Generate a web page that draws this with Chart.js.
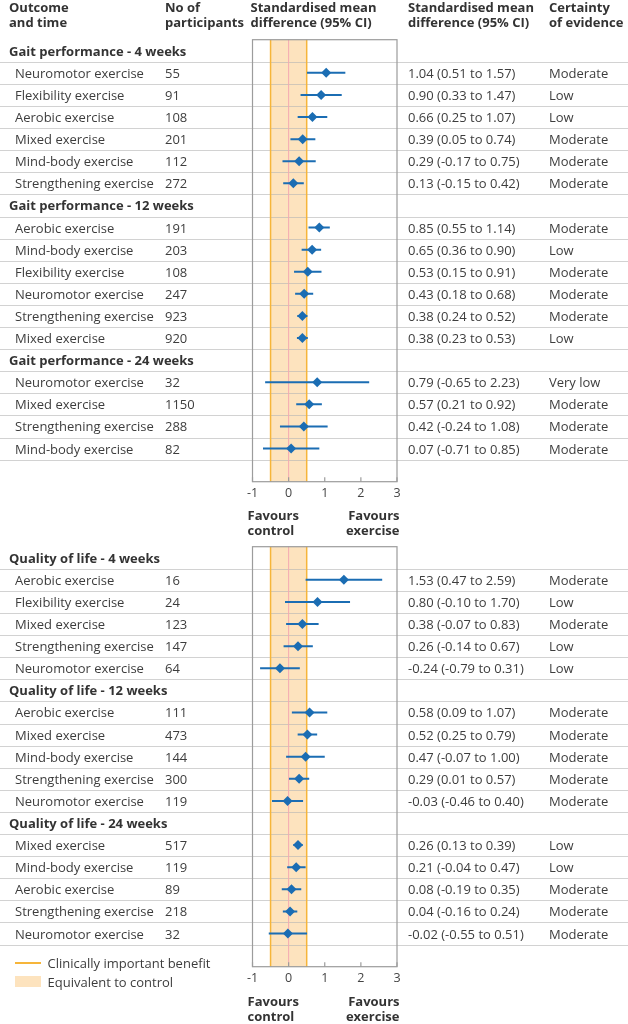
<!DOCTYPE html>
<html>
<head>
<meta charset="utf-8">
<script src="https://cdn.jsdelivr.net/npm/chart.js@4.4.1/dist/chart.umd.min.js"></script>
<style>
    body { margin: 0; background: #fff; font-family: "Open Sans", sans-serif; color: #3d3d3d; }
    #page { position: relative; width: 628px; height: 1024px; overflow: hidden; }
    canvas { position: absolute; left: 0; }
    .t { position: absolute; white-space: nowrap; font-size: 13px; line-height: 16px; }
    .h { position: absolute; white-space: nowrap; font-size: 13px; line-height: 15px; font-weight: bold; color: #333; }
    .b { font-weight: bold; color: #333; }
</style>
</head>
<body>
<div id="page">
    <canvas id="gait-chart" width="628" height="530" style="top:0"></canvas>
    <canvas id="qol-chart" width="628" height="460" style="top:540px"></canvas>
</div>
<script>
/*** 資料 ***/
const xTicks = [-1, 0, 1, 2, 3];
const equivBand = [-0.5, 0.5];

const gaitGroups = ['Gait performance - 4 weeks', 'Gait performance - 12 weeks', 'Gait performance - 24 weeks'];
const gaitGroupSize = [6, 6, 4];
const gaitNames = [
    'Neuromotor exercise', 'Flexibility exercise', 'Aerobic exercise', 'Mixed exercise', 'Mind-body exercise', 'Strengthening exercise',
    'Aerobic exercise', 'Mind-body exercise', 'Flexibility exercise', 'Neuromotor exercise', 'Strengthening exercise', 'Mixed exercise',
    'Neuromotor exercise', 'Mixed exercise', 'Strengthening exercise', 'Mind-body exercise'
];
const gaitN = [55, 91, 108, 201, 112, 272, 191, 203, 108, 247, 923, 920, 32, 1150, 288, 82];
const gaitSmd = [1.04, 0.90, 0.66, 0.39, 0.29, 0.13, 0.85, 0.65, 0.53, 0.43, 0.38, 0.38, 0.79, 0.57, 0.42, 0.07];
const gaitLow = [0.51, 0.33, 0.25, 0.05, -0.17, -0.15, 0.55, 0.36, 0.15, 0.18, 0.24, 0.23, -0.65, 0.21, -0.24, -0.71];
const gaitHigh = [1.57, 1.47, 1.07, 0.74, 0.75, 0.42, 1.14, 0.90, 0.91, 0.68, 0.52, 0.53, 2.23, 0.92, 1.08, 0.85];
const gaitCertainty = ['Moderate', 'Low', 'Low', 'Moderate', 'Moderate', 'Moderate', 'Moderate', 'Low', 'Moderate', 'Moderate', 'Moderate', 'Low',
    'Very low', 'Moderate', 'Moderate', 'Moderate'];

const qolGroups = ['Quality of life - 4 weeks', 'Quality of life - 12 weeks', 'Quality of life - 24 weeks'];
const qolGroupSize = [5, 5, 5];
const qolNames = [
    'Aerobic exercise', 'Flexibility exercise', 'Mixed exercise', 'Strengthening exercise', 'Neuromotor exercise',
    'Aerobic exercise', 'Mixed exercise', 'Mind-body exercise', 'Strengthening exercise', 'Neuromotor exercise',
    'Mixed exercise', 'Mind-body exercise', 'Aerobic exercise', 'Strengthening exercise', 'Neuromotor exercise'
];
const qolN = [16, 24, 123, 147, 64, 111, 473, 144, 300, 119, 517, 119, 89, 218, 32];
const qolSmd = [1.53, 0.80, 0.38, 0.26, -0.24, 0.58, 0.52, 0.47, 0.29, -0.03, 0.26, 0.21, 0.08, 0.04, -0.02];
const qolLow = [0.47, -0.10, -0.07, -0.14, -0.79, 0.09, 0.25, -0.07, 0.01, -0.46, 0.13, -0.04, -0.19, -0.16, -0.55];
const qolHigh = [2.59, 1.70, 0.83, 0.67, 0.31, 1.07, 0.79, 1.00, 0.57, 0.40, 0.39, 0.47, 0.35, 0.24, 0.51];
const qolCertainty = ['Moderate', 'Low', 'Moderate', 'Low', 'Low', 'Moderate', 'Moderate', 'Moderate', 'Moderate', 'Moderate',
    'Low', 'Low', 'Moderate', 'Moderate', 'Moderate'];


/*** 版面 ***/
const page = document.getElementById('page');

function addText(cls, html, x, y, align) {
    const d = document.createElement('div');
    d.className = cls;
    d.innerHTML = html;
    d.style.top = y + 'px';
    if (align === 'right') {
        d.style.right = (628 - x) + 'px';
        d.style.textAlign = 'right';
    } else {
        d.style.left = x + 'px';
    }
    page.appendChild(d);
}

// 將組別展開成列：標題列 k = -1
function buildRows(groups, sizes) {
    const rows = [];
    let k = 0;
    groups.forEach((g, gi) => {
        rows.push({ head: g, k: -1 });
        for (let i = 0; i < sizes[gi]; i++) rows.push({ k: k++ });
    });
    return rows;
}

const framePlugin = {
    id: 'frame',
    beforeDatasetsDraw(chart) {
        const { ctx, chartArea: a, scales: { x, y } } = chart;
        const n = chart.options.plugins.frame.rows;
        ctx.save();
        const b0 = x.getPixelForValue(equivBand[0]);
        const b1 = x.getPixelForValue(equivBand[1]);
        ctx.fillStyle = '#fde3be';
        ctx.fillRect(b0, a.top, b1 - b0, a.bottom - a.top);

        ctx.strokeStyle = 'rgba(180,180,180,0.6)';
        ctx.lineWidth = 1;
        for (let i = 0; i < n; i++) {
            const py = Math.round(y.getPixelForValue(i + 0.5)) + 0.5;
            ctx.beginPath();
            ctx.moveTo(0, py);
            ctx.lineTo(chart.width, py);
            ctx.stroke();
        }

        ctx.strokeStyle = '#f6b53a';
        ctx.lineWidth = 1.5;
        [b0, b1].forEach(px => {
            ctx.beginPath();
            ctx.moveTo(px, a.top);
            ctx.lineTo(px, a.bottom);
            ctx.stroke();
        });
        ctx.strokeStyle = '#f4a9b2';
        ctx.lineWidth = 1;
        const z = x.getPixelForValue(0);
        ctx.beginPath();
        ctx.moveTo(z, a.top);
        ctx.lineTo(z, a.bottom);
        ctx.stroke();

        ctx.strokeStyle = '#9c9c9c';
        ctx.lineWidth = 1.2;
        ctx.strokeRect(a.left, a.top, a.right - a.left, a.bottom - a.top);
        xTicks.forEach(v => {
            const px = x.getPixelForValue(v);
            ctx.beginPath();
            ctx.moveTo(px, a.bottom);
            ctx.lineTo(px, a.bottom - 4.5);
            ctx.stroke();
        });
        ctx.restore();
    }
};

function makeForest(id, top, boxTop, boxBottom, groups, sizes, names, ns, smd, low, high, cert) {
    const rows = buildRows(groups, sizes);
    const ci = [];
    const pts = [];
    rows.forEach((r, i) => {
        if (r.k < 0) return;
        ci.push({ x: low[r.k], y: i }, { x: high[r.k], y: i }, { x: null, y: null });
        pts.push({ x: smd[r.k], y: i });
    });

    const chart = new Chart(document.getElementById(id), {
        type: 'scatter',
        data: {
            datasets: [
                {
                    data: ci,
                    showLine: true,
                    spanGaps: false,
                    borderColor: '#1b6db3',
                    borderWidth: 2,
                    pointRadius: 0,
                },
                {
                    data: pts,
                    pointStyle: 'rectRot',
                    pointRadius: 5,
                    backgroundColor: '#1b6db3',
                    borderColor: '#1b6db3',
                    borderWidth: 0,
                }
            ]
        },
        options: {
            responsive: false,
            animation: false,
            layout: { padding: { left: 252.5, right: 231, top: boxTop - top, bottom: 0 } },
            plugins: {
                legend: { display: false },
                tooltip: { enabled: false },
                frame: { rows: rows.length },
            },
            scales: {
                x: {
                    type: 'linear',
                    min: -1,
                    max: 3,
                    afterBuildTicks: s => { s.ticks = xTicks.map(v => ({ value: v })); },
                    grid: { display: false, drawTicks: false, tickLength: 0 },
                    border: { display: false },
                    ticks: {
                        color: '#444',
                        padding: 4,
                        font: { family: 'Open Sans', size: 12.5 }
                    }
                },
                y: {
                    type: 'linear',
                    display: false,
                    reverse: true,
                    min: -0.5,
                    max: rows.length + 0.5
                }
            }
        },
        plugins: [framePlugin]
    });

    // 調整底部留白，使圖框底邊落在目標位置
    const extra = chart.chartArea.bottom - (boxBottom - top);
    chart.options.layout.padding.bottom = Math.max(0, extra);
    chart.update();

    // 表格文字
    rows.forEach((r, i) => {
        const cy = top + chart.scales.y.getPixelForValue(i) - 8;
        if (r.k < 0) {
            addText('t b', r.head, 9, cy);
            return;
        }
        addText('t', names[r.k], 15, cy);
        addText('t', String(ns[r.k]), 165, cy);
        addText('t', smd[r.k].toFixed(2) + ' (' + low[r.k].toFixed(2) + ' to ' + high[r.k].toFixed(2) + ')', 408, cy);
        addText('t', cert[r.k], 549, cy);
    });
    return chart;
}

makeForest('gait-chart', 0, 39.7, 481.7, gaitGroups, gaitGroupSize, gaitNames, gaitN, gaitSmd, gaitLow, gaitHigh, gaitCertainty);
makeForest('qol-chart', 540, 546.7, 966.7, qolGroups, qolGroupSize, qolNames, qolN, qolSmd, qolLow, qolHigh, qolCertainty);

/*** 標題與圖例 ***/
addText('h', 'Outcome<br>and time', 9, 0);
addText('h', 'No of<br>participants', 165, 0);
addText('h', 'Standardised mean<br>difference (95% CI)', 250.5, 0);
addText('h', 'Standardised mean<br>difference (95% CI)', 408, 0);
addText('h', 'Certainty<br>of evidence', 549, 0);

addText('h', 'Favours<br>control', 247.5, 507.5);
addText('h', 'Favours<br>exercise', 399.5, 507.5, 'right');
addText('h', 'Favours<br>control', 247.5, 994);
addText('h', 'Favours<br>exercise', 399.5, 994, 'right');

const legLine = document.createElement('div');
legLine.style.cssText = 'position:absolute;left:15px;top:962px;width:26px;height:1.5px;background:#f6b53a';
page.appendChild(legLine);
const legBox = document.createElement('div');
legBox.style.cssText = 'position:absolute;left:15px;top:976px;width:26px;height:11px;background:#fde3be';
page.appendChild(legBox);
addText('t', 'Clinically important benefit', 47.5, 955);
addText('t', 'Equivalent to control', 47.5, 974);
</script>
</body>
</html>
